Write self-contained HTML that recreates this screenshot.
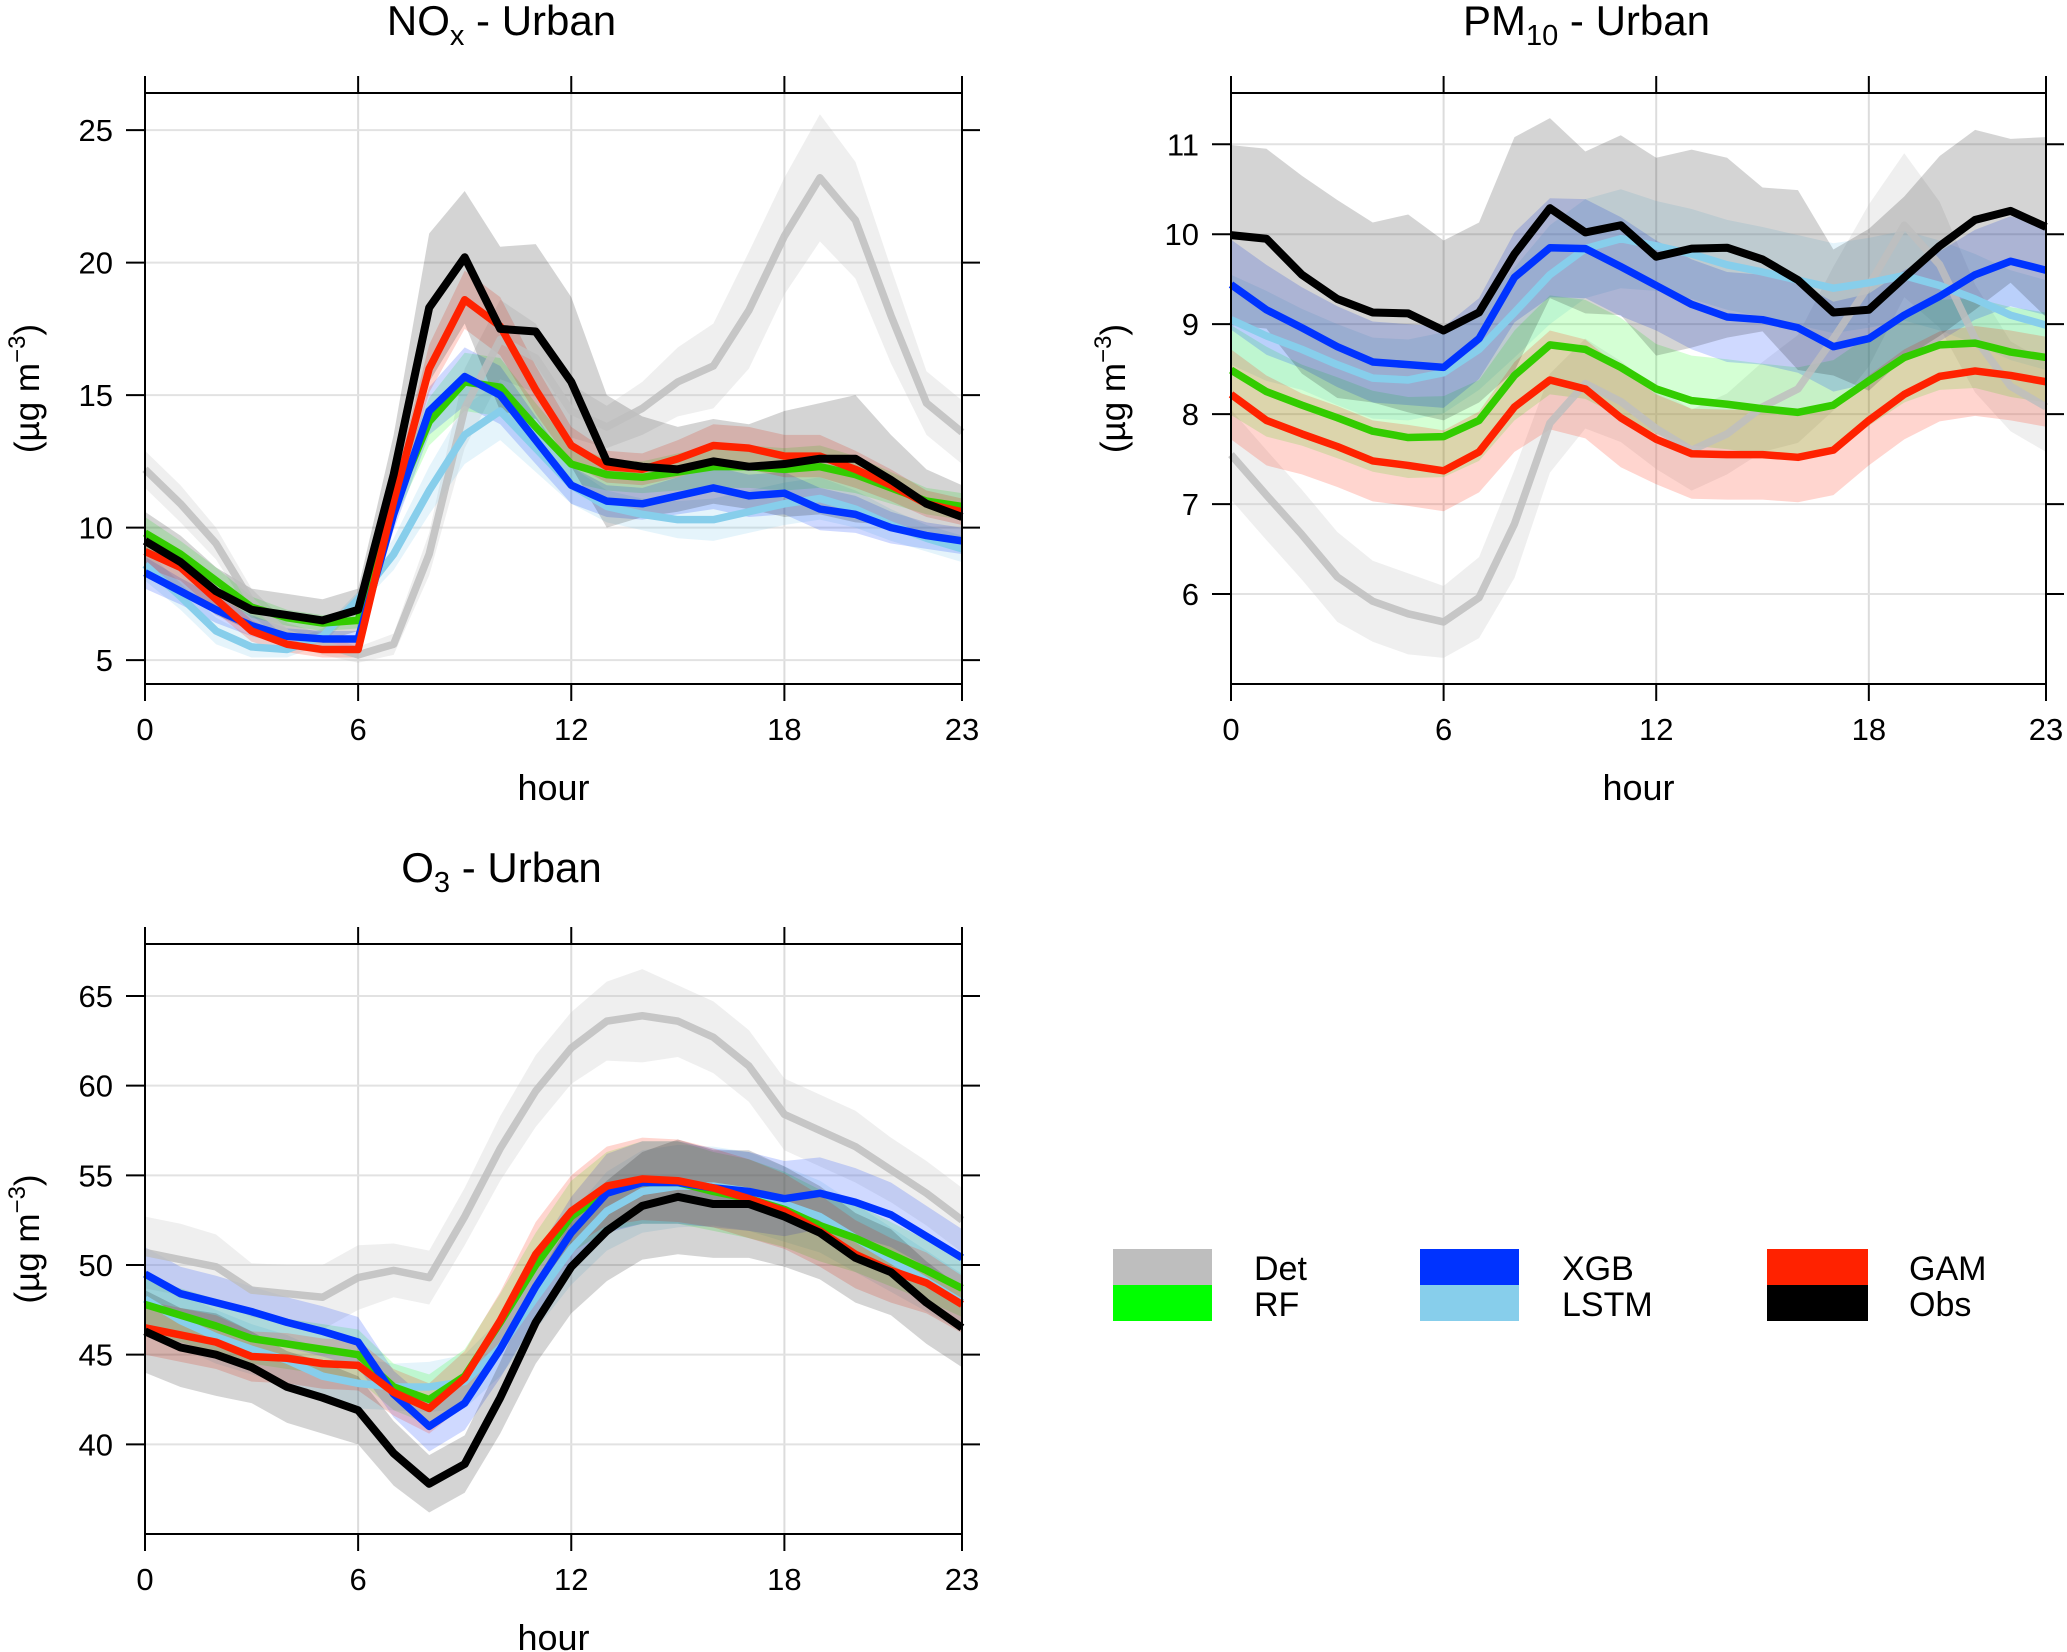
<!DOCTYPE html>
<html><head><meta charset="utf-8"><style>
html,body{margin:0;padding:0;background:#fff;}
svg{display:block;font-family:"Liberation Sans",Arial,sans-serif;}
</style></head><body>
<svg id="chart" width="2067" height="1652" viewBox="0 0 2067 1652" xmlns="http://www.w3.org/2000/svg">
<g id="legend">
 <rect x="1113" y="1249" width="99" height="36" fill="#bebebe"/>
 <rect x="1113" y="1285" width="99" height="36" fill="#00ff00"/>
 <text x="1254" y="1280" font-size="34">Det</text>
 <text x="1254" y="1316" font-size="34">RF</text>
 <rect x="1420" y="1249" width="99" height="36" fill="#0033ff"/>
 <rect x="1420" y="1285" width="99" height="36" fill="#87ceeb"/>
 <text x="1562" y="1280" font-size="34">XGB</text>
 <text x="1562" y="1316" font-size="34">LSTM</text>
 <rect x="1767" y="1249" width="101" height="36" fill="#ff2200"/>
 <rect x="1767" y="1285" width="101" height="36" fill="#000"/>
 <text x="1909" y="1280" font-size="34">GAM</text>
 <text x="1909" y="1316" font-size="34">Obs</text>
</g>
</svg>
<script>
const hours = [0,1,2,3,4,5,6,7,8,9,10,11,12,13,14,15,16,17,18,19,20,21,22,23];
const xTicks = [0,6,12,18,23];
const seriesNames = ["Det","LSTM","RF","XGB","GAM","Obs"];

// NOx
const noxDet  = [12.2,10.9,9.4,7.2,6.0,5.6,5.2,5.6,9.0,14.5,17.1,16.4,14.4,13.8,14.5,15.5,16.1,18.2,21.0,23.2,21.6,18.0,14.7,13.6];
const noxLSTM = [8.6,7.4,6.1,5.5,5.4,5.9,7.3,9.0,11.4,13.5,14.4,13.0,11.6,10.8,10.5,10.3,10.3,10.6,10.9,11.1,10.7,10.1,9.6,9.2];
const noxRF   = [9.8,9.0,8.0,7.0,6.6,6.4,6.5,10.8,14.0,15.5,15.3,13.8,12.4,12.0,11.9,12.1,12.3,12.3,12.2,12.3,12.0,11.5,11.0,10.8];
const noxXGB  = [8.3,7.6,6.9,6.3,5.9,5.8,5.8,10.5,14.4,15.7,15.0,13.3,11.6,11.0,10.9,11.2,11.5,11.2,11.3,10.7,10.5,10.0,9.7,9.5];
const noxGAM  = [9.1,8.5,7.3,6.1,5.6,5.4,5.4,11.0,16.0,18.6,17.6,15.2,13.1,12.3,12.2,12.6,13.1,13.0,12.7,12.7,12.2,11.6,10.9,10.6];
const noxObs  = [9.5,8.7,7.6,6.9,6.7,6.5,6.9,12.0,18.3,20.2,17.5,17.4,15.5,12.5,12.3,12.2,12.5,12.3,12.4,12.6,12.6,11.8,10.9,10.4];
const noxDetErr  = [0.7,0.7,0.6,0.5,0.4,0.4,0.3,0.4,0.8,1.5,1.5,1.3,1.0,0.8,1.0,1.3,1.6,2.2,2.2,2.4,2.2,1.8,1.2,1.2];
const noxModErr  = [0.6,0.5,0.5,0.4,0.3,0.3,0.3,0.6,0.9,1.1,1.1,0.9,0.7,0.6,0.6,0.7,0.8,0.8,0.8,0.8,0.7,0.6,0.5,0.5];
const noxObsErr  = [1.1,1.0,0.9,0.8,0.8,0.8,0.8,1.5,2.8,2.5,3.1,3.3,3.2,2.5,1.9,1.6,1.6,1.6,2.0,2.1,2.4,1.7,1.3,1.2];

// PM10
const pmDet  = [7.55,7.1,6.66,6.19,5.92,5.78,5.69,5.96,6.78,7.9,8.34,8.14,7.84,7.6,7.78,8.08,8.28,8.84,9.43,10.1,9.66,8.84,8.31,8.08];
const pmLSTM = [9.05,8.87,8.72,8.55,8.4,8.38,8.46,8.72,9.13,9.55,9.84,9.95,9.87,9.78,9.66,9.58,9.49,9.4,9.46,9.54,9.43,9.28,9.1,8.99];
const pmRF   = [8.49,8.25,8.1,7.96,7.81,7.74,7.75,7.93,8.43,8.77,8.72,8.52,8.28,8.15,8.11,8.06,8.02,8.1,8.37,8.63,8.77,8.79,8.69,8.63];
const pmXGB  = [9.44,9.16,8.96,8.75,8.58,8.55,8.52,8.84,9.52,9.85,9.84,9.64,9.43,9.22,9.08,9.05,8.96,8.75,8.84,9.1,9.31,9.55,9.7,9.6];
const pmGAM  = [8.22,7.93,7.78,7.64,7.48,7.43,7.37,7.58,8.08,8.38,8.28,7.96,7.72,7.56,7.55,7.55,7.52,7.6,7.93,8.22,8.42,8.48,8.43,8.36];
const pmObs  = [9.99,9.95,9.55,9.28,9.13,9.12,8.93,9.13,9.78,10.29,10.02,10.1,9.75,9.84,9.85,9.72,9.49,9.13,9.16,9.52,9.87,10.16,10.26,10.08];
const pmDetErr = [0.5,0.5,0.5,0.5,0.45,0.45,0.4,0.45,0.6,0.55,0.5,0.45,0.45,0.45,0.45,0.5,0.6,0.8,0.9,0.8,0.7,0.6,0.5,0.5];
const pmModErr = [0.5,0.5,0.45,0.45,0.45,0.45,0.45,0.45,0.5,0.55,0.55,0.55,0.5,0.5,0.5,0.5,0.5,0.5,0.5,0.5,0.5,0.5,0.5,0.5];
const pmObsErr = [1.0,1.0,1.1,1.1,1.0,1.1,1.0,1.0,1.3,1.0,0.9,1.0,1.1,1.1,1.0,0.8,1.0,0.7,0.9,0.9,1.0,1.0,0.8,1.0];

// O3
const o3Det  = [50.7,50.3,49.9,48.6,48.4,48.2,49.3,49.7,49.3,52.7,56.5,59.7,62.1,63.6,63.9,63.6,62.7,61.1,58.4,57.5,56.6,55.3,54.0,52.5];
const o3LSTM = [48.1,46.9,46.0,45.3,44.7,43.8,43.4,43.2,43.2,43.5,45.4,48.2,50.9,53.0,54.1,54.4,54.4,54.1,53.4,52.7,51.5,50.3,49.1,47.9];
const o3RF   = [47.8,47.2,46.6,45.9,45.6,45.3,45.0,43.2,42.5,43.8,46.8,50.0,52.7,54.1,54.6,54.6,54.1,53.7,53.1,52.2,51.5,50.6,49.7,48.7];
const o3XGB  = [49.5,48.4,47.9,47.4,46.8,46.3,45.7,42.8,41.0,42.3,45.3,48.8,51.8,54.0,54.6,54.6,54.3,54.1,53.7,54.0,53.5,52.8,51.6,50.4];
const o3GAM  = [46.5,46.1,45.7,44.9,44.8,44.5,44.4,42.9,42.0,43.7,46.9,50.6,53.0,54.4,54.8,54.7,54.3,53.7,53.0,51.9,50.6,49.7,49.0,47.8];
const o3Obs  = [46.3,45.4,45.0,44.3,43.2,42.6,41.9,39.5,37.8,38.9,42.6,46.8,49.9,51.9,53.3,53.8,53.4,53.4,52.7,51.8,50.4,49.6,47.9,46.5];
const o3DetErr = [2.0,2.0,1.8,1.5,1.6,1.8,1.8,1.5,1.5,1.6,1.8,2.0,2.0,2.2,2.6,2.0,2.0,2.0,2.0,2.0,2.0,1.8,1.8,1.8];
const o3ModErr = [1.5,1.5,1.5,1.4,1.4,1.4,1.4,1.3,1.4,1.5,1.6,1.8,2.0,2.2,2.3,2.3,2.2,2.2,2.1,2.0,1.9,1.8,1.7,1.6];
const o3ObsErr = [2.3,2.2,2.3,2.0,2.0,2.0,1.9,1.8,1.6,1.6,2.0,2.3,2.6,2.8,3.0,3.2,3.0,3.0,2.8,2.6,2.5,2.4,2.3,2.2];

const noxYTicks = [5,10,15,20,25];
const pmYTicks = [6,7,8,9,10,11];
const o3YTicks = [40,45,50,55,60,65];

const colors = {Det:"#bebebe",LSTM:"#87ceeb",RF:"#33cc00",XGB:"#0033ff",GAM:"#ff2200",Obs:"#000000"};
const bandFill = {Det:"rgba(190,190,190,0.25)",LSTM:"rgba(135,206,235,0.22)",RF:"rgba(0,255,0,0.17)",XGB:"rgba(0,51,255,0.19)",GAM:"rgba(255,34,0,0.19)",Obs:"rgba(0,0,0,0.17)"};

const NS="http://www.w3.org/2000/svg";
const svg=document.getElementById("chart");
function mk(tag,attrs,parent){const e=document.createElementNS(NS,tag);for(const k in attrs)e.setAttribute(k,attrs[k]);(parent||svg).appendChild(e);return e;}

function panel(cfg){
  const g=mk("g",{});
  
  
  const X=h=>cfg.x0+(cfg.x1-cfg.x0)*h/23;
  const Yv=v=>cfg.bot+(v-cfg.vmin)/(cfg.vmax-cfg.vmin)*(cfg.top-cfg.bot);
  xTicks.forEach(t=>{const l=mk("line",{x1:X(t),x2:X(t),y1:cfg.top,y2:cfg.bot,stroke:"#dcdcdc","stroke-width":2},g);
    
    });
  cfg.yTicks.forEach(t=>{const l=mk("line",{x1:cfg.x0,x2:cfg.x1,y1:Yv(t),y2:Yv(t),stroke:"#e2e2e2","stroke-width":2},g);
    
    });
  cfg.series.forEach(s=>{
    const up=s.vals.map((v,i)=>X(hours[i])+","+Yv(v+s.err[i]));
    const dn=s.vals.map((v,i)=>X(hours[i])+","+Yv(v-s.err[i])).reverse();
    const p=mk("polygon",{points:up.concat(dn).join(" "),fill:bandFill[s.name],stroke:"none"},g);
    
    
  });
  cfg.series.forEach(s=>{
    const pts=s.vals.map((v,i)=>X(hours[i])+","+Yv(v)).join(" ");
    const pl=mk("polyline",{points:pts,fill:"none",stroke:colors[s.name],"stroke-width":s.name==="Obs"?8:7.5,"stroke-linejoin":"round",opacity:s.name==="Det"?0.85:1},g);
    
    
  });
  const fr=mk("rect",{x:cfg.x0,y:cfg.top,width:cfg.x1-cfg.x0,height:cfg.bot-cfg.top,fill:"none",stroke:"#000","stroke-width":2},g);
  
  
  xTicks.forEach(t=>{
    mk("line",{x1:X(t),x2:X(t),y1:cfg.bot,y2:cfg.bot+17,stroke:"#000","stroke-width":2},g);
    mk("line",{x1:X(t),x2:X(t),y1:cfg.top,y2:cfg.top-17,stroke:"#000","stroke-width":2},g);
    const tx=mk("text",{x:X(t),y:cfg.bot+56,"font-size":31,"text-anchor":"middle"},g);
    tx.textContent=t;
    
    
  });
  cfg.yTicks.forEach(t=>{
    mk("line",{x1:cfg.x0,x2:cfg.x0-19,y1:Yv(t),y2:Yv(t),stroke:"#000","stroke-width":2},g);
    mk("line",{x1:cfg.x1,x2:cfg.x1+18,y1:Yv(t),y2:Yv(t),stroke:"#000","stroke-width":2},g);
    const tx=mk("text",{x:cfg.x0-32,y:Yv(t)+11,"font-size":31,"text-anchor":"end"},g);
    tx.textContent=t;
    
    
  });
  const xl=mk("text",{x:(cfg.x0+cfg.x1)/2,y:cfg.bot+116,"font-size":36,"text-anchor":"middle"},g);
  xl.textContent="hour";
  
  
  const yl=mk("text",{transform:`translate(${cfg.x0-106},${(cfg.top+cfg.bot)/2}) rotate(-90)`,"font-size":35,"text-anchor":"middle"},g);
  yl.innerHTML='(µg m<tspan dy="-14" font-size="24">−3</tspan><tspan dy="14">)</tspan>';
  
  
  const ti=mk("text",{x:(cfg.x0+cfg.x1)/2-52,y:cfg.titleY,"font-size":42,"text-anchor":"middle"},g);
  ti.innerHTML=cfg.title;
  
  
}

function mkSeries(d,l,r,x,g,o,dErr,mErr,oErr){
  return [{name:"Det",vals:d,err:dErr},{name:"LSTM",vals:l,err:mErr},{name:"RF",vals:r,err:mErr},{name:"XGB",vals:x,err:mErr},{name:"GAM",vals:g,err:mErr},{name:"Obs",vals:o,err:oErr}];
}

panel({key:"nox",x0:145,x1:962,top:93,bot:684,vmin:4.1,vmax:26.4,yTicks:noxYTicks,titleY:35,
  title:'NO<tspan dy="10" font-size="29">x</tspan><tspan dy="-10"> - Urban</tspan>',
  series:mkSeries(noxDet,noxLSTM,noxRF,noxXGB,noxGAM,noxObs,noxDetErr,noxModErr,noxObsErr)});
panel({key:"pm10",x0:1231,x1:2046,top:93,bot:684,vmin:5.0,vmax:11.57,yTicks:pmYTicks,titleY:35,
  title:'PM<tspan dy="10" font-size="29">10</tspan><tspan dy="-10"> - Urban</tspan>',
  series:mkSeries(pmDet,pmLSTM,pmRF,pmXGB,pmGAM,pmObs,pmDetErr,pmModErr,pmObsErr)});
panel({key:"o3",x0:145,x1:962,top:944,bot:1534,vmin:35.0,vmax:67.9,yTicks:o3YTicks,titleY:882,
  title:'O<tspan dy="10" font-size="29">3</tspan><tspan dy="-10"> - Urban</tspan>',
  series:mkSeries(o3Det,o3LSTM,o3RF,o3XGB,o3GAM,o3Obs,o3DetErr,o3ModErr,o3ObsErr)});
</script>
</body></html>
